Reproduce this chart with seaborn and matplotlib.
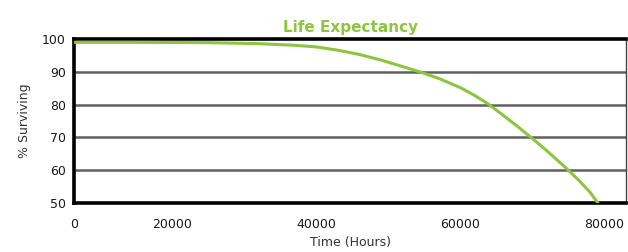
import numpy as np
import pandas as pd
import seaborn as sns
import matplotlib.pyplot as plt

hours = [0, 6400, 15000, 25000, 32000, 37000, 40000, 43000, 46000, 49000,
         52000, 54400, 57000, 60000, 62000, 63800, 65800, 67800, 69700,
         71500, 73300, 74900, 76500, 78000, 79100]
surviving = [99.0, 99.0, 99.0, 98.9, 98.6, 98.1, 97.6, 96.6, 95.3, 93.6,
             91.6, 90.0, 88.0, 85.2, 82.8, 80.3, 77.0, 73.6, 70.2,
             66.9, 63.4, 60.2, 56.8, 53.3, 50.0]

x_ticks = [6400, 20000, 40000, 60000, 80000]
x_tick_labels = ["0", "20000", "40000", "60000", "80000"]
y_ticks = [50, 60, 70, 80, 90, 100]

GREEN = "#8cc63f"

sns.set_style("white")
plt.rcParams["font.family"] = ["DejaVu Sans"]

df = pd.DataFrame({"Time (Hours)": hours, "% Surviving": surviving})

fig = plt.figure(figsize=(6.28, 2.52), dpi=100)
ax = fig.add_axes([0.118, 0.194, 0.879, 0.651])

for y in y_ticks[1:-1]:
    ax.axhline(y, color="#606060", lw=1.8, zorder=1)

sns.lineplot(data=df, x="Time (Hours)", y="% Surviving", color=GREEN,
             lw=2.2, ax=ax, zorder=3)

ax.set_xlim(6400, 83000)
ax.set_ylim(50, 100)
ax.set_xticks(x_ticks)
ax.set_xticklabels(x_tick_labels)
ax.set_yticks(y_ticks)
ax.tick_params(axis="both", length=0, labelsize=9, colors="#1a1a1a")
ax.tick_params(axis="x", pad=11)
ax.tick_params(axis="y", pad=6)

for side in ["left", "bottom", "top"]:
    ax.spines[side].set_color("black")
    ax.spines[side].set_linewidth(2.6)
ax.spines["right"].set_color("#444444")
ax.spines["right"].set_linewidth(1.0)

ax.set_xlabel("Time (Hours)", fontsize=9, color="#333333", labelpad=3)
ax.set_ylabel("% Surviving", fontsize=9, color="#333333", labelpad=8)
ax.set_title("Life Expectancy", color=GREEN, fontsize=11, fontweight="bold", pad=5)

fig.savefig("out.png", dpi=100)
